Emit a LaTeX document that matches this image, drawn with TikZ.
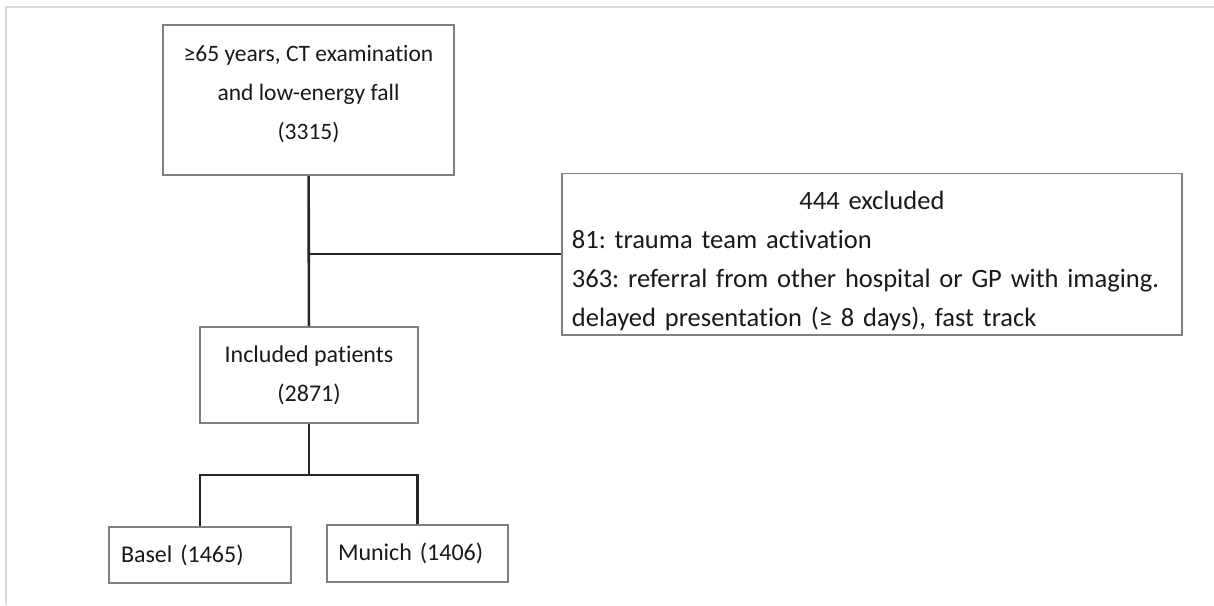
\documentclass[tikz,border=0pt]{standalone}
\usepackage{fontspec}
\setmainfont{Carlito}[Ligatures=NoCommon]
\usepackage{tikz}
\frenchspacing
\hyphenpenalty=10000

\begin{document}
\begin{tikzpicture}[x=1pt,y=-1pt]
\tikzstyle{block}=[draw=black!50,line width=1.8pt,text=black!90,inner sep=0pt,font=\fontsize{24}{39}\selectfont]
\tikzstyle{link}=[draw=black!85,line width=2.6pt]
\useasboundingbox (0,0) rectangle (1214,605);
\draw[black!15,line width=2.2pt] (1214,7) -- (6,7) -- (6,605);
\node[block,minimum width=291pt,minimum height=150pt,align=center,text depth=16pt,font=\fontsize{23.5}{39}\selectfont] (1) at (308.5,100) {≥65 years, CT examination\\and low-energy fall\\(3315)};
\node[block,anchor=north west,text width=600pt,inner xsep=10pt,inner ysep=8pt,text height=28.5pt,text depth=117pt,align=left,font=\fontsize{26.5}{39}\selectfont] (2) at (561,172.5) {\makebox[600pt]{444 excluded}\\81: trauma team activation\\363: referral from other hospital or GP with imaging.\\delayed presentation (≥ 8 days), fast track};
\node[block,minimum width=218pt,minimum height=96pt,align=center] (3) at (309,375) {Included patients\\(2871)};
\node[block,minimum height=56pt,text width=158pt,inner xsep=12pt,align=left] (4) at (200,555) {Basel (1465)};
\node[block,minimum height=57pt,text width=159pt,inner xsep=11pt,align=left] (5) at (417.5,553.5) {Munich (1406)};
\draw[link] (1) -- (3);
\draw[link] (2.west) -- (2.west -| 1.south);
\draw[link] (3.south) -- ++(0,51) coordinate (6);
\draw[link] (4.north) |- (6) -| (5.north);
\end{tikzpicture}
\end{document}
